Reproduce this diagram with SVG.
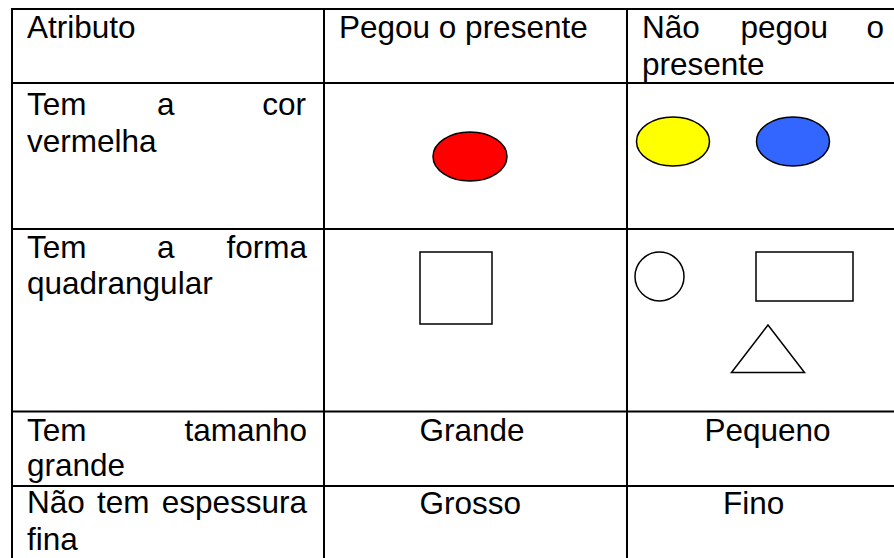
<svg xmlns="http://www.w3.org/2000/svg" width="894" height="558" viewBox="0 0 894 558">
  <style>
    .grid { stroke: #000; stroke-width: 2; fill: none; }
    .t { font-family: "Liberation Sans", Arial, sans-serif; font-size: 31.5px; fill: #000; }
    .shape { stroke: #000; stroke-width: 1.5; fill: none; }
    .oval { stroke: #000; stroke-width: 1.5; }
  </style>
  <rect x="0" y="0" width="894" height="558" fill="#fff"/>
  <g id="grid">
    <line class="grid" x1="12" y1="9" x2="894" y2="9"/>
    <line class="grid" x1="12" y1="83" x2="894" y2="83"/>
    <line class="grid" x1="12" y1="229" x2="894" y2="229"/>
    <line class="grid" x1="12" y1="411.5" x2="894" y2="411.5"/>
    <line class="grid" x1="12" y1="486" x2="894" y2="486"/>
    <line class="grid" x1="12" y1="8" x2="12" y2="558"/>
    <line class="grid" x1="324" y1="8" x2="324" y2="558"/>
    <line class="grid" x1="627" y1="8" x2="627" y2="558"/>
  </g>
  <g id="header">
    <text class="t" x="27" y="37.5">Atributo</text>
    <text class="t" x="339" y="37.5">Pegou o presente</text>
    <text class="t" y="37.5"><tspan x="642">Não </tspan><tspan x="740.5">pegou </tspan><tspan x="884" text-anchor="end">o</tspan></text>
    <text class="t" x="642" y="75">presente</text>
  </g>
  <g id="row-cor">
    <text class="t" y="115"><tspan x="27">Tem </tspan><tspan x="157">a </tspan><tspan x="306" text-anchor="end">cor</tspan></text>
    <text class="t" x="27" y="151.5">vermelha</text>
    <ellipse class="oval" cx="470" cy="156.5" rx="37" ry="24.5" fill="#ff0000"/>
    <ellipse class="oval" cx="673" cy="141.5" rx="36.5" ry="24.5" fill="#ffff00"/>
    <ellipse class="oval" cx="793" cy="141.5" rx="36.5" ry="24.5" fill="#3366ff"/>
  </g>
  <g id="row-forma">
    <text class="t" y="257.5"><tspan x="27">Tem </tspan><tspan x="157">a </tspan><tspan x="307" text-anchor="end">forma</tspan></text>
    <text class="t" x="27" y="294">quadrangular</text>
    <rect class="shape" x="420" y="252" width="72" height="72"/>
    <circle class="shape" cx="659.5" cy="276.5" r="24.5"/>
    <rect class="shape" x="756" y="252" width="97" height="49"/>
    <polygon class="shape" points="768,325 731.5,372.5 804.5,372.5"/>
  </g>
  <g id="row-tamanho">
    <text class="t" y="441"><tspan x="27">Tem </tspan><tspan x="307" text-anchor="end">tamanho</tspan></text>
    <text class="t" x="27" y="476">grande</text>
    <text class="t" x="419.5" y="441">Grande</text>
    <text class="t" x="704.5" y="441">Pequeno</text>
  </g>
  <g id="row-espessura">
    <text class="t" y="513"><tspan x="27">Não </tspan><tspan x="97">tem </tspan><tspan x="307" text-anchor="end">espessura</tspan></text>
    <text class="t" x="27" y="549.5">fina</text>
    <text class="t" x="419.5" y="514">Grosso</text>
    <text class="t" x="723" y="514">Fino</text>
  </g>
</svg>
